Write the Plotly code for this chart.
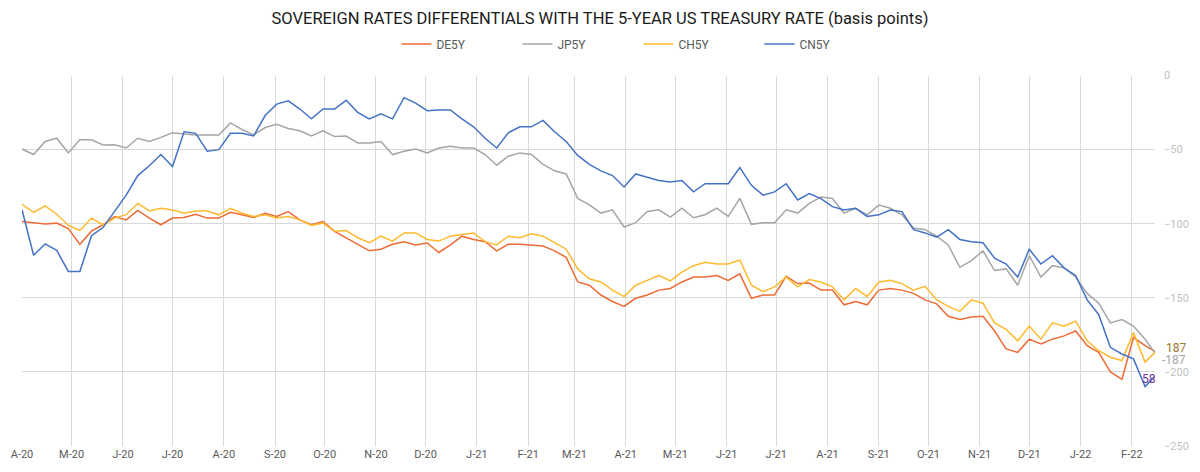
import pandas as pd
import plotly.graph_objects as go

# Weekly readings (basis points), starting 2020-04-01
start_date = "2020-04-01"
n_weeks = 99

de5y = [-98.5, -99.6, -100.2, -99.6, -103.3, -113.9, -105.0, -100.7, -95.1, -97.4,
        -91.0, -96.2, -100.7, -96.2, -95.8, -93.6, -96.2, -96.2, -92.3, -94.0,
        -95.8, -92.9, -95.1, -91.8, -97.4, -100.7, -98.5, -105.1, -109.5, -114.3,
        -118.3, -117.2, -113.9, -112.1, -114.3, -113.0, -119.4, -114.3, -108.4, -110.6,
        -112.1, -118.3, -113.9, -113.9, -114.3, -115.0, -118.3, -122.7, -139.3, -141.5,
        -148.1, -152.5, -155.8, -150.3, -148.1, -144.8, -143.7, -139.3, -136.0, -136.0,
        -134.9, -138.2, -133.8, -150.3, -148.1, -148.1, -135.5, -140.4, -140.0, -144.8,
        -144.8, -154.7, -152.5, -154.7, -144.8, -143.7, -144.8, -147.0, -151.4, -154.1,
        -162.5, -164.7, -162.9, -162.5, -172.4, -184.5, -186.8, -177.9, -181.2, -177.9,
        -175.7, -172.4, -182.3, -186.8, -200.0, -205.0, -176.8, -182.3, -186.8]

jp5y = [-49.6, -53.3, -44.5, -42.3, -52.2, -43.4, -43.4, -46.9, -46.7, -48.9,
        -42.3, -44.5, -41.7, -38.6, -39.5, -40.1, -40.1, -40.1, -32.0, -36.4,
        -40.1, -35.1, -32.9, -35.7, -37.3, -40.8, -37.3, -41.2, -40.8, -45.6,
        -45.6, -44.5, -53.3, -51.1, -49.6, -52.2, -48.9, -47.8, -48.9, -48.9,
        -53.3, -60.5, -54.4, -52.2, -53.3, -59.9, -64.3, -66.4, -82.9, -87.3,
        -92.8, -90.6, -102.2, -99.3, -91.7, -90.6, -95.6, -89.5, -96.0, -93.9,
        -89.5, -95.0, -82.9, -100.4, -99.3, -99.3, -90.6, -92.8, -86.3, -81.9,
        -83.0, -92.9, -89.6, -94.0, -87.4, -89.6, -94.0, -102.9, -104.0, -108.4,
        -114.3, -129.4, -124.9, -118.3, -131.6, -130.5, -141.5, -121.6, -136.0, -128.3,
        -129.8, -135.9, -147.0, -153.6, -166.9, -164.7, -169.1, -177.9, -189.0]

ch5y = [-87.0, -92.3, -88.0, -93.6, -101.0, -104.6, -96.2, -100.7, -96.2, -93.9,
        -86.3, -91.4, -89.6, -90.7, -92.9, -91.4, -91.4, -94.0, -89.6, -92.9,
        -95.1, -94.0, -96.2, -95.1, -97.4, -101.1, -99.6, -105.1, -104.6, -109.5,
        -112.8, -108.4, -111.7, -106.2, -106.2, -110.6, -111.7, -108.4, -107.3, -106.2,
        -112.1, -114.3, -108.4, -109.5, -106.8, -108.4, -112.8, -117.2, -130.5, -137.1,
        -139.3, -144.8, -149.2, -141.5, -138.2, -134.9, -138.6, -132.7, -128.3, -126.0,
        -127.2, -127.2, -124.5, -141.5, -145.9, -142.6, -136.0, -142.6, -137.7, -139.3,
        -142.6, -151.4, -143.7, -149.2, -139.3, -138.2, -140.4, -144.8, -142.2, -151.4,
        -155.8, -159.2, -151.4, -153.6, -166.9, -171.3, -179.0, -169.1, -177.9, -166.9,
        -169.1, -165.8, -179.0, -185.7, -190.1, -192.3, -173.5, -193.4, -185.7]

cn5y = [-90.6, -121.3, -113.6, -118.0, -132.2, -132.2, -108.1, -102.6, -91.7, -80.7,
        -67.5, -60.9, -53.3, -61.4, -37.9, -39.0, -51.1, -50.0, -39.0, -39.0,
        -40.8, -27.0, -19.3, -17.1, -22.6, -29.2, -22.6, -22.6, -16.7, -24.8,
        -29.2, -25.9, -29.2, -14.9, -18.6, -23.7, -23.2, -23.2, -29.2, -34.6,
        -42.3, -48.9, -38.6, -34.6, -34.6, -30.3, -37.9, -44.5, -53.9, -59.9,
        -64.3, -67.5, -75.2, -66.4, -68.6, -70.8, -71.9, -70.8, -78.5, -73.0,
        -73.0, -73.0, -62.1, -74.1, -80.7, -78.5, -73.0, -84.0, -79.7, -83.0,
        -88.5, -90.7, -89.6, -95.1, -94.0, -90.7, -91.8, -104.0, -106.2, -109.0,
        -104.0, -110.6, -112.1, -112.8, -123.2, -127.2, -136.0, -117.2, -127.2, -121.6,
        -129.8, -134.9, -151.4, -161.4, -183.4, -187.9, -191.2, -209.9, -201.8]

series_names = ["DE5Y", "JP5Y", "CH5Y", "CN5Y"]
series_colors = ["#EC6B36", "#A5A5A5", "#FFB92E", "#4472C4"]

tick_dates = pd.date_range("2020-04-01", "2022-02-01", freq="MS")
tick_text = [d.strftime("%B")[0] + "-" + d.strftime("%y") for d in tick_dates]

# end-of-series labels: text, colour, value, anchor, x shift (px), y shift (px)
end_labels = [("187", "#A0782A", -187.0, "left", 9, 5),
              ("-187", "#A5A5A5", -187.0, "left", 5, -7),
              ("58", "#7030A0", -201.8, "right", 3, -4)]

dates = pd.date_range(start_date, periods=n_weeks, freq="7D")

fig = go.Figure()
for name, color, vals in zip(series_names, series_colors, [de5y, jp5y, ch5y, cn5y]):
    fig.add_trace(go.Scatter(x=dates, y=vals, mode="lines", name=name,
                             line=dict(color=color, width=1.5)))

for txt, col, yv, anc, dx, dy in end_labels:
    fig.add_annotation(x=1, xref="paper", y=yv, yref="y", text=txt, showarrow=False,
                       xanchor=anc, xshift=dx, yshift=dy,
                       font=dict(size=12, color=col, family="Roboto"))

fig.update_layout(
    width=1200, height=472,
    margin=dict(l=11, r=38, t=67, b=26),
    paper_bgcolor="white", plot_bgcolor="white",
    font=dict(family="Roboto", color="#595959", size=11),
    title=dict(text="SOVEREIGN RATES DIFFERENTIALS WITH THE 5-YEAR US TREASURY RATE (basis points)",
               x=0.5, xref="container", xanchor="center", y=0.962, yref="container", yanchor="middle",
               font=dict(size=16.5, color="#1a1a1a", family="Roboto")),
    legend=dict(orientation="h", x=0.532, xref="container", xanchor="center",
                y=0.907, yref="container", yanchor="middle",
                font=dict(size=12, color="#595959"), entrywidth=76, entrywidthmode="pixels",
                itemwidth=30),
    showlegend=True,
)
fig.update_xaxes(range=[pd.Timestamp("2020-04-01"), pd.Timestamp("2022-02-15")],
                 tickvals=tick_dates, ticktext=tick_text, showgrid=True,
                 gridcolor="#D9D9D9", gridwidth=1, zeroline=False, showline=False,
                 tickfont=dict(size=11, color="#595959"), ticks="",
                 ticklabeloverflow="allow")
fig.update_yaxes(range=[-250, 0], side="right", dtick=50, showgrid=True,
                 gridcolor="#D9D9D9", gridwidth=1, zeroline=False, showline=False,
                 tickfont=dict(size=11, color="#BFBFBF"), ticks="", ticklabelstandoff=8)

fig.write_html("out.html")
